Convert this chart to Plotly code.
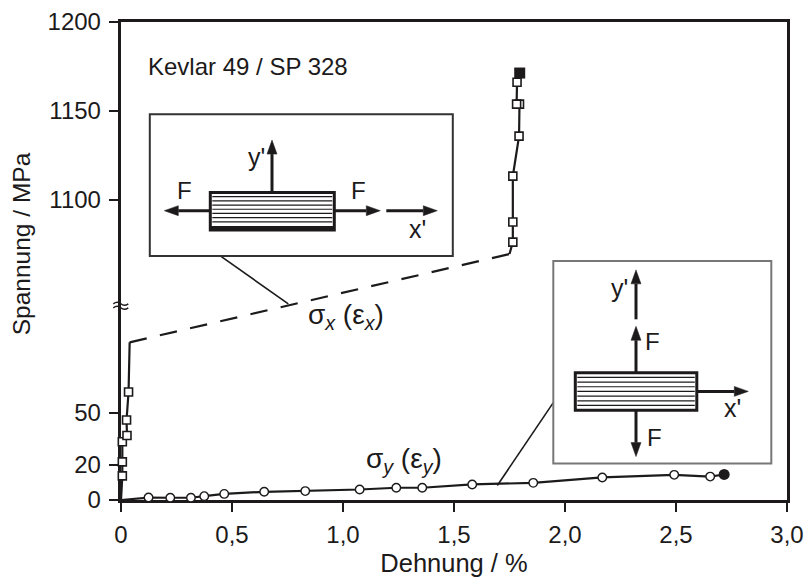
import plotly.graph_objects as go

# --- data (strain in %, stress in MPa) ---
sx_low_strain = [0.0, 0.006, 0.006, 0.006, 0.027, 0.025, 0.034, 0.039]
sx_low_stress = [0.0, 13.8, 21.8, 33.3, 36.9, 45.8, 61.8, 90.2]
sx_high_strain = [1.750, 1.765, 1.765, 1.765, 1.793, 1.795, 1.782, 1.784, 1.796]
sx_high_stress = [1069.5, 1076.2, 1087.5, 1113.3, 1135.8, 1153.8, 1153.8, 1166.1, 1171.3]
sx_end_strain = [1.796]
sx_end_stress = [1171.3]
sy_strain = [0.0, 0.124, 0.222, 0.315, 0.375, 0.465, 0.645, 0.83, 1.075, 1.24, 1.357, 1.582, 1.857, 2.168, 2.492, 2.654, 2.717]
sy_stress = [0.0, 1.4, 1.3, 1.3, 2.2, 3.5, 4.7, 5.1, 6.0, 7.0, 7.0, 8.9, 9.8, 12.9, 14.4, 13.4, 14.6]
x_ticks = [0, 0.5, 1.0, 1.5, 2.0, 2.5, 3.0]
x_labels = ["0", "0,5", "1,0", "1,5", "2,0", "2,5", "3,0"]
y_ticks = [0, 20, 50, 1100, 1150, 1200]
y_labels = ["0", "20", "50", "1100", "1150", "1200"]

W, H = 805, 579
L, R, T, B = 120.7, 786.7, 21.7, 500.5
INK = "#1c1a1a"
FONT = "Liberation Sans"
BREAK_LOW, BREAK_HIGH = 111.0, 1040.3
HIGH_SCALE = 1.78 / 1.75


def ax_y(v):
    """Broken stress axis: lower and upper parts have their own scale."""
    return v if v <= BREAK_LOW else BREAK_LOW + (v - BREAK_HIGH) * HIGH_SCALE


def ys(values):
    return [ax_y(v) for v in values]


def px(x):
    return (x - L) / (R - L)


def py(y):
    return (B - y) / (B - T)


shapes = []
annotations = []


def line(x0, y0, x1, y1, color=INK, width=2):
    shapes.append(dict(type="line", xref="paper", yref="paper", x0=px(x0), y0=py(y0), x1=px(x1), y1=py(y1),
                       line=dict(color=color, width=width)))


def rect(x0, y0, x1, y1, color=INK, width=2, fill="white"):
    shapes.append(dict(type="rect", xref="paper", yref="paper", x0=px(x0), y0=py(y0), x1=px(x1), y1=py(y1),
                       line=dict(color=color, width=width), fillcolor=fill))


def arrow(x0, y0, x1, y1, width=3):
    dx, dy = x1 - x0, y1 - y0
    n = (dx * dx + dy * dy) ** 0.5
    ux, uy = dx / n, dy / n
    hl, hw = 14, 5
    bx, by = x1 - ux * hl, y1 - uy * hl
    line(x0, y0, bx, by, width=width)
    pts = [(x1, y1), (bx - uy * hw, by + ux * hw), (bx + uy * hw, by - ux * hw)]
    path = "M " + " L ".join(f"{px(a):.5f},{py(b):.5f}" for a, b in pts) + " Z"
    shapes.append(dict(type="path", xref="paper", yref="paper", path=path, fillcolor=INK, line=dict(color=INK, width=0.5)))


def label(x, y, text, size=21, color=INK, anchor="center", angle=0):
    annotations.append(dict(xref="paper", yref="paper", x=px(x), y=py(y), text=text, showarrow=False,
                            xanchor=anchor, yanchor="middle", borderpad=0, borderwidth=0, textangle=angle,
                            font=dict(family=FONT, size=size, color=color)))


def specimen(x0, y0, x1, y1, bottom_extra=0):
    rect(x0, y0, x1, y1, width=3)
    n = 7
    for i in range(1, n + 1):
        y = y0 + (y1 - y0 - bottom_extra) * i / (n + 1)
        line(x0 + 2, y, x1 - 2, y, width=1.2)
    if bottom_extra:
        rect(x0, y1 - bottom_extra, x1, y1, width=0, fill=INK)


# leaders
line(220, 256, 288, 304, width=1.6)
line(553, 403, 497, 486, width=1.6)

# inset 1
rect(149.5, 114, 452.5, 256, color="#333333", width=2)
specimen(210, 192.5, 334, 230, bottom_extra=4)
arrow(210, 210.7, 164, 210.7)
arrow(334, 210.7, 380, 210.7)
arrow(386, 210.7, 437, 210.7)
arrow(271.7, 192, 271.7, 140)
label(256, 157, "y'", 25)
label(184, 190, "F", 24)
label(358, 190, "F", 24)
label(417, 229, "x'", 25)

# inset 2
rect(553, 261, 771, 464, color="#777777", width=2)
specimen(575, 373, 696.5, 410.5)
arrow(635.7, 319.5, 635.7, 270)
arrow(635.7, 373, 635.7, 326.5)
arrow(635.7, 410.5, 635.7, 457)
arrow(696.5, 391.7, 748, 391.7)
label(619.5, 288, "y'", 25)
label(652, 341.5, "F", 24)
label(654.5, 437.5, "F", 24)
label(732, 408, "x'", 25)

label(148, 66, "Kevlar 49 / SP 328", 24, anchor="left")
label(346, 317, "σ<sub><i>x</i></sub> (ε<sub><i>x</i></sub>)", 28)
label(404, 461, "σ<sub><i>y</i></sub> (ε<sub><i>y</i></sub>)", 28)
label(22, 244, "Spannung / MPa", 24.5, angle=-90)

# axis-break mark
for off in (-2, 2):
    y = 306 + off
    path = (f"M {px(113):.5f},{py(y):.5f} Q {px(117):.5f},{py(y - 3):.5f} {px(120.5):.5f},{py(y):.5f} "
            f"T {px(128):.5f},{py(y):.5f}")
    shapes.append(dict(type="path", xref="paper", yref="paper", path=path, line=dict(color=INK, width=1.4)))

fig = go.Figure()
LINE_W = 2.2
fig.add_trace(go.Scatter(x=sx_low_strain, y=ys(sx_low_stress), mode="lines", line=dict(color=INK, width=LINE_W), cliponaxis=False))
fig.add_trace(go.Scatter(x=[sx_low_strain[-1], sx_high_strain[0]], y=ys([sx_low_stress[-1], sx_high_stress[0]]), mode="lines",
                         line=dict(color=INK, width=LINE_W, dash="17.5px,13.5px"), cliponaxis=False))
fig.add_trace(go.Scatter(x=sx_high_strain, y=ys(sx_high_stress), mode="lines", line=dict(color=INK, width=LINE_W), cliponaxis=False))
fig.add_trace(go.Scatter(x=sy_strain, y=ys(sy_stress), mode="lines", line=dict(color=INK, width=LINE_W), cliponaxis=False))
fig.add_trace(go.Scatter(x=sx_low_strain[1:-1], y=ys(sx_low_stress[1:-1]), mode="markers", cliponaxis=False,
                         marker=dict(symbol="square", size=8, color="white", line=dict(color=INK, width=1.6))))
fig.add_trace(go.Scatter(x=sx_high_strain[1:-1], y=ys(sx_high_stress[1:-1]), mode="markers", cliponaxis=False,
                         marker=dict(symbol="square", size=8, color="white", line=dict(color=INK, width=1.6))))
fig.add_trace(go.Scatter(x=sx_end_strain, y=ys(sx_end_stress), mode="markers", cliponaxis=False,
                         marker=dict(symbol="square", size=11, color=INK)))
fig.add_trace(go.Scatter(x=sy_strain[1:-1], y=ys(sy_stress[1:-1]), mode="markers", cliponaxis=False,
                         marker=dict(symbol="circle", size=8.5, color="white", line=dict(color=INK, width=1.4))))
fig.add_trace(go.Scatter(x=sy_strain[-1:], y=ys(sy_stress[-1:]), mode="markers", cliponaxis=False,
                         marker=dict(symbol="circle", size=11, color=INK)))

axis_common = dict(showgrid=False, zeroline=False, showline=True, mirror=True, linecolor=INK, linewidth=2.5,
                   ticks="outside", ticklen=9.5, tickwidth=1.6, tickcolor=INK, layer="below traces",
                   automargin=False, tickfont=dict(family=FONT, size=24, color=INK))
fig.update_layout(
    width=W, height=H, autosize=False, showlegend=False,
    margin=dict(l=L, r=W - R, t=T, b=H - B, pad=0, autoexpand=False),
    paper_bgcolor="white", plot_bgcolor="white",
    xaxis=dict(range=[0, 3.0], tickmode="array", tickvals=x_ticks, ticktext=x_labels, ticklabelstandoff=2,
               title=dict(text="Dehnung / %", font=dict(family=FONT, size=25.5, color=INK), standoff=8), **axis_common),
    yaxis=dict(range=[0, ax_y(1200)], tickmode="array", tickvals=ys(y_ticks), ticktext=y_labels, ticklabelstandoff=3,
               **axis_common),
    shapes=shapes, annotations=annotations,
)
fig.write_html("out.html", config={"displayModeBar": False},
               post_script="document.body.style.margin='0';document.body.style.overflow='hidden';")
